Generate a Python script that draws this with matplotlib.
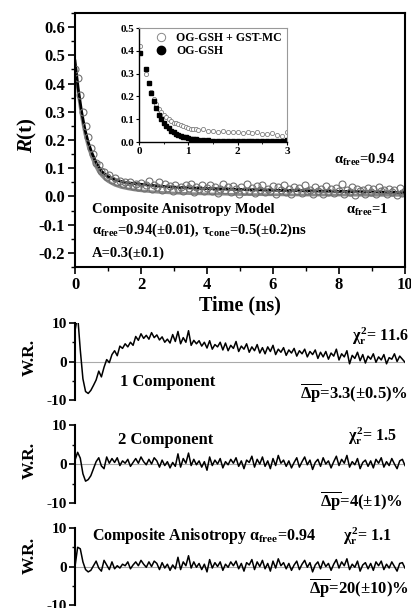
import numpy as np
import matplotlib
matplotlib.use('Agg')
import matplotlib.pyplot as plt
from matplotlib.lines import Line2D

plt.rcParams['font.family'] = ['Liberation Serif', 'DejaVu Serif']
plt.rcParams['font.weight'] = 'bold'
plt.rcParams['axes.unicode_minus'] = False
plt.rcParams['mathtext.fontset'] = 'custom'
plt.rcParams['mathtext.rm'] = 'Liberation Serif:bold'
plt.rcParams['mathtext.it'] = 'Liberation Serif'
plt.rcParams['mathtext.bf'] = 'Liberation Serif:bold:italic'

# anisotropy decay data, OG-GSH + GST-MC (0.08 ns channels)
r_data = [0.45, 0.42, 0.36, 0.30, 0.25, 0.21, 0.17, 0.15, 0.12, 0.11,
          0.09, 0.085, 0.07, 0.075, 0.06, 0.065, 0.05, 0.055, 0.045, 0.05,
          0.04, 0.052, 0.038, 0.045, 0.035, 0.048, 0.03, 0.042, 0.055, 0.028,
          0.04, 0.035, 0.05, 0.022, 0.045, 0.03, 0.038, 0.02, 0.042, 0.028,
          0.035, 0.018, 0.04, 0.03, 0.045, 0.015, 0.033, 0.025, 0.04, 0.018,
          0.03, 0.042, 0.02, 0.035, 0.012, 0.028, 0.045, 0.022, 0.032, 0.015,
          0.038, 0.025, 0.01, 0.034, 0.02, 0.044, 0.018, 0.03, 0.012, 0.036,
          0.024, 0.04, 0.014, 0.028, 0.02, 0.038, 0.01, 0.032, 0.022, 0.042,
          0.016, 0.026, 0.008, 0.035, 0.02, 0.03, 0.012, 0.04, 0.018, 0.024,
          0.01, 0.034, 0.02, 0.028, 0.008, 0.036, 0.016, 0.026, 0.012, 0.03,
          0.02, 0.045, 0.01, 0.024, 0.016, 0.032, 0.006, 0.028, 0.018, 0.022,
          0.01, 0.03, 0.014, 0.026, 0.008, 0.034, 0.018, 0.024, 0.01, 0.028,
          0.016, 0.022, 0.006, 0.03, 0.012, 0.02]

fit_t = [0, 0.1, 0.2, 0.3, 0.4, 0.5, 0.6, 0.7, 0.8, 0.9, 1.0, 1.2, 1.4,
         1.6, 1.8, 2.0, 2.5, 3, 3.5, 4, 5, 6, 7, 8, 9, 10]
fit_comp = [0.48, 0.38, 0.30, 0.238, 0.192, 0.158, 0.13, 0.108, 0.09, 0.079,
            0.07, 0.06, 0.053, 0.048, 0.046, 0.043, 0.037, 0.033, 0.03, 0.028,
            0.025, 0.022, 0.02, 0.018, 0.016, 0.014]
fit_free1 = [0.46, 0.36, 0.28, 0.22, 0.175, 0.14, 0.112, 0.09, 0.074, 0.062,
             0.053, 0.04, 0.032, 0.027, 0.023, 0.02, 0.015, 0.012, 0.01, 0.009,
             0.007, 0.006, 0.005, 0.005, 0.004, 0.004]

# inset
ins_t = [0.02, 0.15, 0.2, 0.25, 0.3, 0.35, 0.4, 0.45, 0.5, 0.55, 0.6, 0.65,
         0.7, 0.75, 0.8, 0.85, 0.9, 0.95, 1.0, 1.05, 1.1, 1.15, 1.2, 1.3, 1.4,
         1.5, 1.6, 1.7, 1.8, 1.9, 2.0, 2.1, 2.2, 2.3, 2.4, 2.5, 2.6, 2.7, 2.8,
         2.9, 3.0]
ins_complex = [0.42, 0.30, 0.26, 0.22, 0.19, 0.165, 0.145, 0.13, 0.12, 0.11,
               0.1, 0.09, 0.085, 0.082, 0.078, 0.075, 0.07, 0.065, 0.06, 0.058,
               0.055, 0.056, 0.052, 0.055, 0.05, 0.048, 0.045, 0.05, 0.046,
               0.042, 0.045, 0.04, 0.044, 0.038, 0.042, 0.036, 0.035, 0.038,
               0.03, 0.025, 0.042]
ins_free = [0.39, 0.32, 0.26, 0.215, 0.18, 0.15, 0.12, 0.1, 0.085, 0.07,
            0.06, 0.05, 0.042, 0.036, 0.03, 0.026, 0.022, 0.02, 0.018, 0.015,
            0.013, 0.012, 0.01, 0.008, 0.007, 0.006, 0.005, 0.006, 0.004, 0.005,
            0.004, 0.005, 0.006, 0.004, 0.005, 0.004, 0.006, 0.005, 0.004,
            0.005, 0.01]

# weighted residuals
wr_1comp = [8, 12, 3, -4.5, -7.8, -8.3, -7.5, -6.2, -4.8, -2.5,
            -4, -1.5, 0.5, -0.3, 1.8, 2.8, 1.5, 4, 3.4, 4.6,
            3.8, 5, 4.2, 6.5, 5.5, 7.2, 6, 6.8, 5.8, 7.5,
            6.2, 6.9, 5.6, 6.4, 5, 5.8, 4.8, 7, 5.2, 7.8,
            4.6, 6.2, 5, 8, 4.2, 5.5, 4.6, 5.4, 4, 5,
            3.5, 5.4, 3.2, 4.4, 3.8, 5, 3, 4.8, 2.8, 4.2,
            3.4, 5.2, 2.6, 4, 3.2, 4.6, 2.4, 3.8, 2.8, 4.4,
            2.2, 3.6, 2, 3.8, 2.6, 4.2, 1.8, 3.2, 2.4, 3.6,
            1.6, 3, 2.2, 3.4, 1.4, 2.8, 2, 3.2, 1.2, 2.6,
            1.8, 3, 0.8, 2.4, 1.2, 2.6, 0.6, 2.2, 1.4, 3.2,
            0.4, 2, 1.2, 2.8, -0.6, 1.6, 0.8, 2.4, 0.2, 1.8,
            -0.4, 1.4, 0.6, 2, -0.2, 1.2, 0.4, 1.8, -0.6, 1,
            0.6, 2, 0, 1.4, 0.6, -0.2]
wr_2comp = [1, 3, 1.5, -2.5, -4.4, -4, -3, -1.2, 0.6, 1.6,
            -0.5, -1.2, 1.8, 0.2, 1.4, 0.4, 1.6, -0.4, 0.8, 0.2,
            1.2, -0.6, 0.4, 1.4, 0.2, 1.8, 0.6, -0.2, 1.2, 0,
            1.6, 0.8, -0.8, 1, -0.4, 0.6, -1, 0.4, -0.6, 2.6,
            -0.8, 1.4, 0.2, 2.8, -0.4, 1.2, -0.2, 0.8, -0.8, 0.6,
            -1.6, 1.8, -0.4, 1, 0, 1.4, -1, 0.6, -0.2, 1.2,
            0.2, 1.6, -0.6, 0.8, -1.2, 1, 0.4, 2, -0.8, 1.2,
            0, 1.8, -0.6, 0.8, -1.2, 1.4, -0.4, 2.2, 0.2, 1,
            -0.6, 0.8, -1, 0.4, 1.6, -0.8, 0.6, 1.8, -0.2, 1,
            -1.4, 0.4, 1.2, -0.6, 1.6, 0, 0.8, -1, 0.6, 2,
            -0.4, 1.2, 0.2, 2.2, -0.8, 0.6, -0.2, 1.4, -1.2, 0.4,
            1, -0.6, 0.8, -1, 1.2, 0.2, 1.6, -0.8, 0.6, -0.4,
            1.4, 0, -1.2, 0.8, 1.2, -0.4]
wr_comp = [0, 5, 4.6, 1.2, -0.8, -1.4, -1, 0.2, 1.4, -0.4,
           -1.2, 1.6, 0.4, -0.8, 1.2, -0.6, 0.2, -0.4, 0.6, 0.2,
           1.2, -0.6, 0.4, 1.2, 0.2, 1.6, 0.6, -0.2, 1.2, 0,
           1.4, 0.8, -0.8, 1, -0.4, 0.6, -1, 0.4, -0.6, 2.4,
           -0.8, 1.2, 0.2, 2.8, -0.4, 1.2, -0.2, 0.8, -0.8, 0.6,
           -1.4, 1.8, -0.4, 1, 0, 1.2, -1, 0.6, -0.2, 1.2,
           0.2, 1.4, -0.6, 0.8, -1.2, 1, 0.4, 1.8, -0.8, 1.2,
           0, 1.6, -0.6, 0.8, -1.2, 1.4, -0.4, 2, 0.2, 1,
           -0.6, 0.8, -1, 0.4, 1.4, -0.8, 0.6, 1.6, -0.2, 1,
           -1.4, 0.4, 1.2, -0.6, 1.4, 0, 0.8, -1, 0.6, 1.8,
           -0.4, 1.2, 0.2, 2, -0.8, 0.6, -0.2, 1.4, -1.2, 0.4,
           1, -0.6, 0.8, -1, 1.2, 0.2, 1.4, -0.8, 0.6, -0.4,
           1.2, 0, -1.2, 0.8, 1, -0.4]

W, H = 411, 608
fig = plt.figure(figsize=(W / 100, H / 100), dpi=100)


def box(l, t, r, b):
    return [l / W, 1 - b / H, (r - l) / W, (b - t) / H]


# ---- main decay panel
ax = fig.add_axes(box(75, 13, 405, 267))
t_data = np.linspace(0, 10, len(r_data))
ax.plot(fit_t, fit_free1, '-', color='#8a8a8a', lw=2)
ax.plot(fit_t, fit_comp, '-', color='black', lw=2)
ax.plot(t_data, r_data, 'o', ms=5, mfc='none', mec='#707070', mew=0.8)
ax.set_xlim(0, 10)
ax.set_ylim(-0.25, 0.65)
ax.set_xticks([0, 2, 4, 6, 8, 10])
ax.set_xticks([1, 3, 5, 7, 9], minor=True)
ax.set_yticks([-0.2, -0.1, 0.0, 0.1, 0.2, 0.3, 0.4, 0.5, 0.6])
ax.set_yticks(np.arange(-0.25, 0.66, 0.05), minor=True)
ax.yaxis.set_major_formatter(plt.FuncFormatter(lambda v, p: '%.1f' % v))
ax.tick_params(which='major', direction='out', length=5, width=1.2, labelsize=12, pad=2)
ax.tick_params(which='minor', direction='out', length=3, width=1)
for s in ax.spines.values():
    s.set_linewidth(1.5)

ax.text(7.85, 0.13, r'$\alpha_{\rm free}$=0.94', fontsize=10.5, va='center')
ax.text(8.2, -0.047, r'$\alpha_{\rm free}$=1', fontsize=10.5, va='center')
ax.text(0.5, -0.046, 'Composite Anisotropy Model', fontsize=10.5, va='center')
ax.text(0.5, -0.12, r'$\alpha_{\rm free}$=0.94(±0.01), $\tau_{\rm cone}$=0.5(±0.2)ns',
        fontsize=10.5, va='center')
ax.text(0.5, -0.2, 'A=0.3(±0.1)', fontsize=10.5, va='center')

fig.text(27 / W, 1 - 135 / H, r'$\mathbf{R}$(t)', fontsize=15,
         rotation=90, ha='center', va='center')
fig.text(240 / W, 1 - 305 / H, 'Time (ns)', fontsize=14.5, ha='center', va='center')

# ---- inset
axi = fig.add_axes(box(139, 28, 287, 142))
axi.plot(ins_t, ins_complex, 'o', ms=3, mfc='white', mec='#808080', mew=0.6)
axi.plot(ins_t, ins_free, 's', ms=2.8, color='black')
axi.set_xlim(0, 3)
axi.set_ylim(0, 0.5)
axi.set_xticks([0, 1, 2, 3])
axi.set_xticks([0.5, 1.5, 2.5], minor=True)
axi.set_yticks([0, 0.1, 0.2, 0.3, 0.4, 0.5])
axi.yaxis.set_major_formatter(plt.FuncFormatter(lambda v, p: '%.1f' % v))
axi.tick_params(which='major', direction='out', length=2.5, width=0.8, labelsize=8, pad=1)
axi.tick_params(which='minor', direction='out', length=1.5, width=0.6)
for k in ['top', 'right']:
    axi.spines[k].set_color('#999999')
    axi.spines[k].set_linewidth(0.8)
for k in ['left', 'bottom']:
    axi.spines[k].set_linewidth(1.0)
handles = [Line2D([], [], ls='none', marker='o', ms=6, mfc='white', mec='#888888', mew=0.7),
           Line2D([], [], ls='none', marker='o', ms=6, color='black')]
axi.legend(handles, ['OG-GSH + GST-MC', 'OG-GSH'], loc='upper left',
           bbox_to_anchor=(0.05, 1.04), frameon=False, fontsize=8.5,
           handlelength=1.0, handletextpad=0.8, labelspacing=0.15, borderpad=0.2)

# ---- residual panels
res_boxes = [(323, 400), (425, 503), (528, 605)]
res_data = [wr_1comp, wr_2comp, wr_comp]
wr_centres = [357, 460, 555]
res_axes = []
for (top, bot), wr, yc in zip(res_boxes, res_data, wr_centres):
    a = fig.add_axes(box(75, top, 405, bot))
    a.axhline(0, color='#aaaaaa', lw=0.8)
    a.plot(np.linspace(0, 10, len(wr)), wr, '-', color='black', lw=1.1)
    a.set_xlim(0, 10)
    a.set_ylim(-10, 10)
    a.set_xticks([])
    a.set_yticks([-10, 0, 10])
    a.set_yticks([-5, 5], minor=True)
    a.tick_params(which='major', direction='out', length=4, width=1.2, labelsize=11, pad=2)
    a.tick_params(which='minor', direction='out', length=2.5, width=1)
    for k in ['top', 'right', 'bottom']:
        a.spines[k].set_visible(False)
    a.spines['left'].set_linewidth(1.5)
    a.patch.set_alpha(0)
    fig.text(30 / W, 1 - yc / H, 'W.R.', fontsize=12.5, rotation=90,
             ha='center', va='center')
    res_axes.append(a)

a1, a2, a3 = res_axes
a1.text(10.1, 6.5, r'$\chi^2_{\rm r}$= 11.6', fontsize=11.5, ha='right', va='center')
a1.text(1.36, -5.2, '1 Component', fontsize=12, va='center')
a1.text(10.1, -8.0, r'$\overline{\Delta{\rm p}}$=3.3(±0.5)%', fontsize=12, ha='right', va='center')

a2.text(1.3, 6.2, '2 Component', fontsize=12, va='center')
a2.text(9.75, 7.0, r'$\chi^2_{\rm r}$= 1.5', fontsize=11.5, ha='right', va='center')
a2.text(9.95, -9.3, r'$\overline{\Delta{\rm p}}$=4(±1)%', fontsize=12, ha='right', va='center')

a3.text(0.52, 7.8, r'Composite Anisotropy $\alpha_{\rm free}$=0.94', fontsize=11.5, va='center')
a3.text(9.6, 7.8, r'$\chi^2_{\rm r}$= 1.1', fontsize=11.5, ha='right', va='center')
a3.text(10.1, -5.5, r'$\overline{\Delta{\rm p}}$=20(±10)%', fontsize=12, ha='right', va='center')

fig.savefig('out.png', dpi=100)
plt.close('all')
